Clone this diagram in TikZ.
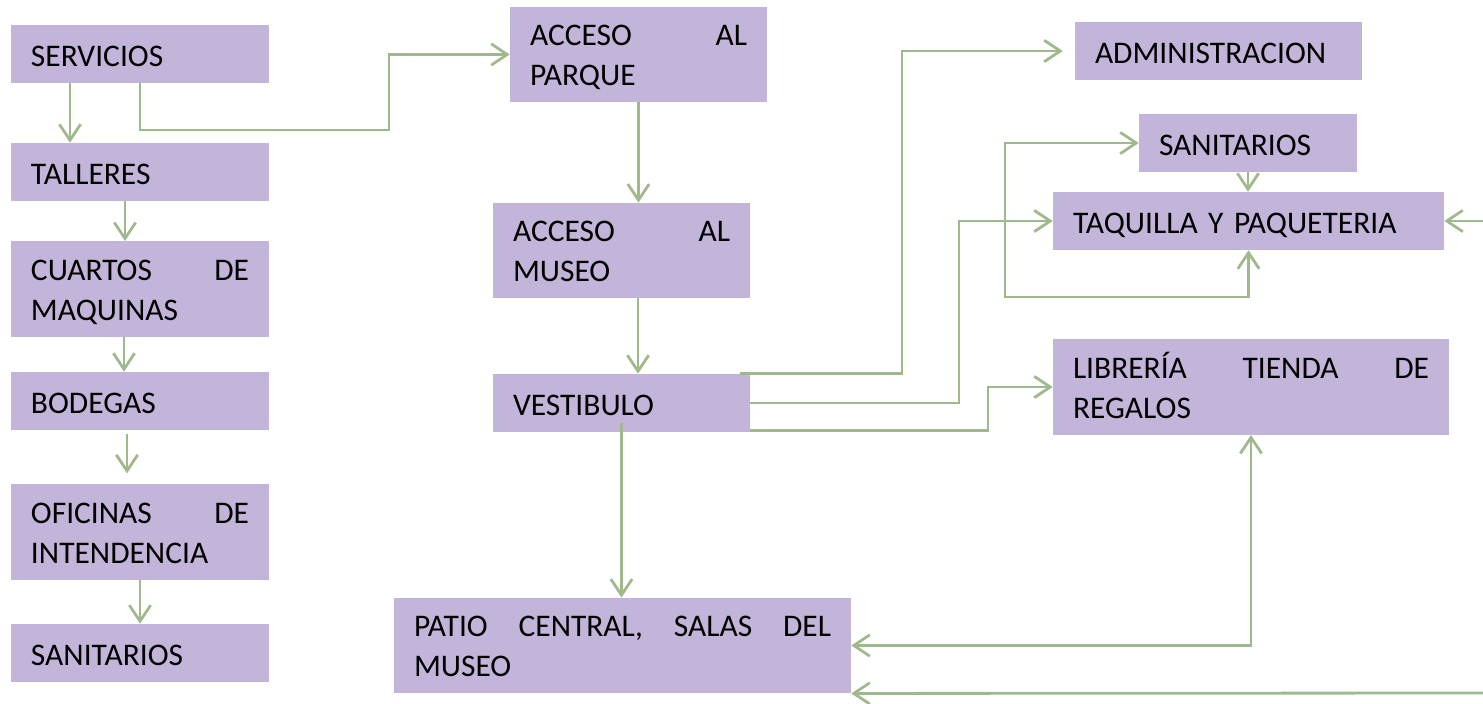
\documentclass[tikz,border=0pt]{standalone}
\usepackage{fontspec}
\setmainfont{Carlito}
\usetikzlibrary{arrows.meta}
\definecolor{boxc}{RGB}{195,181,217}
\definecolor{arrc}{RGB}{160,185,140}
\tikzset{
  box/.style={rectangle, fill=boxc, inner xsep=15pt, inner ysep=0pt, align=left,
    font=\fontsize{23.6}{30}\selectfont, anchor=center},
  arr/.style={draw=arrc, line width=2.1pt, -{Straight Barb[length=12pt,width=16pt,line width=2.1pt]}},
  darr/.style={draw=arrc, line width=2.1pt, {Straight Barb[length=12pt,width=16pt,line width=2.1pt]}-{Straight Barb[length=12pt,width=16pt,line width=2.1pt]}},
  lw/.style={minimum width=193.5pt, text width=163.5pt},
  mw/.style={minimum width=192.75pt, text width=162.75pt},
  one/.style={minimum height=43.5pt, text height=18.2pt, text depth=0pt},
  two/.style={minimum height=71.5pt, text height=17.7pt, text depth=31pt}
}
\begin{document}
\begin{tikzpicture}[x=0.75pt,y=-0.75pt]
\useasboundingbox (0,0) rectangle (1483,703);
% left column
\node[box,lw,one] (serv) at (140,54) {SERVICIOS};
\node[box,lw,one] (tall) at (140,172) {TALLERES};
\node[box,lw,two] (cuar) at (140,289) {CUARTOS\hfill DE\\MAQUINAS};
\node[box,lw,one] (bode) at (140,401) {BODEGAS};
\node[box,lw,two] (ofic) at (140,532) {OFICINAS\hfill DE\\INTENDENCIA};
\node[box,lw,one] (sanL) at (140,653) {SANITARIOS};
% middle column
\node[box,mw,two] (accp) at (638.5,54.5) {ACCESO\hfill AL\\PARQUE};
\node[box,mw,two] (accm) at (621.5,250.5) {ACCESO\hfill AL\\MUSEO};
\node[box,mw,one] (vest) at (621.5,403) {VESTIBULO};
\node[box,two,minimum width=342.75pt,text width=312.75pt] (patio) at (622.5,645.5) {PATIO\hfill CENTRAL,\hfill SALAS\hfill DEL\\MUSEO};
% right column
\node[box,one,minimum width=215.25pt,text width=185.25pt] (admin) at (1218.5,51) {ADMINISTRACION};
\node[box,one,minimum width=163.5pt,text width=133.5pt] (sanR) at (1248,143) {SANITARIOS};
\node[box,one,minimum width=293.25pt,text width=263.25pt] (taq) at (1248.5,221) {TAQUILLA Y PAQUETERIA};
\node[box,two,minimum width=297pt,text width=267pt] (lib) at (1251,387) {LIBRERÍA\hfill TIENDA\hfill DE\\REGALOS};
\coordinate (inT) at (1483,221);
\coordinate (inP) at (1483,693);
% connectors
\draw[arr] (serv.south -| 70,0) -- (tall.north -| 70,0);
\draw[arr] (serv.south -| 140,0) |- (389,130) |- (accp.west);
\draw[arr] (tall.south -| 125,0) -- (cuar.north -| 125,0);
\draw[arr] (cuar.south -| 124,0) -- (bode.north -| 124,0);
\draw[arr, shorten <=3pt, shorten >=8pt] (bode.south -| 127,0) -- (ofic.north -| 127,0);
\draw[arr] (ofic.south -| 140,0) -- (sanL.north -| 140,0);
\draw[arr] (accp.south) -- (accp.south |- accm.north);
\draw[arr] (accm.south -| 638,0) -- (vest.north -| 638,0);
\draw[arr, shorten <=-6.75pt] (vest.south) -- (vest.south |- patio.north);
\draw[arr, shorten >=9pt] ([xshift=-7.5pt]vest.north east) -| (902,200) |- (admin.west);
\draw[arr] (vest.east) -| (959,300) |- (taq.west);
\draw[arr] ([yshift=1.5pt]vest.south east) -| (988,400) |- (lib.west);
\draw[arr] (sanR.south) -- (sanR.south |- taq.north);
\draw[darr] (sanR.west) -| (1005,297) -| (taq.south);
\draw[arr] (inT) -- (taq.east);
\draw[darr] (patio.east) -| (lib.south);
\draw[arr] (inP) -- (patio.south east);
\end{tikzpicture}
\end{document}
